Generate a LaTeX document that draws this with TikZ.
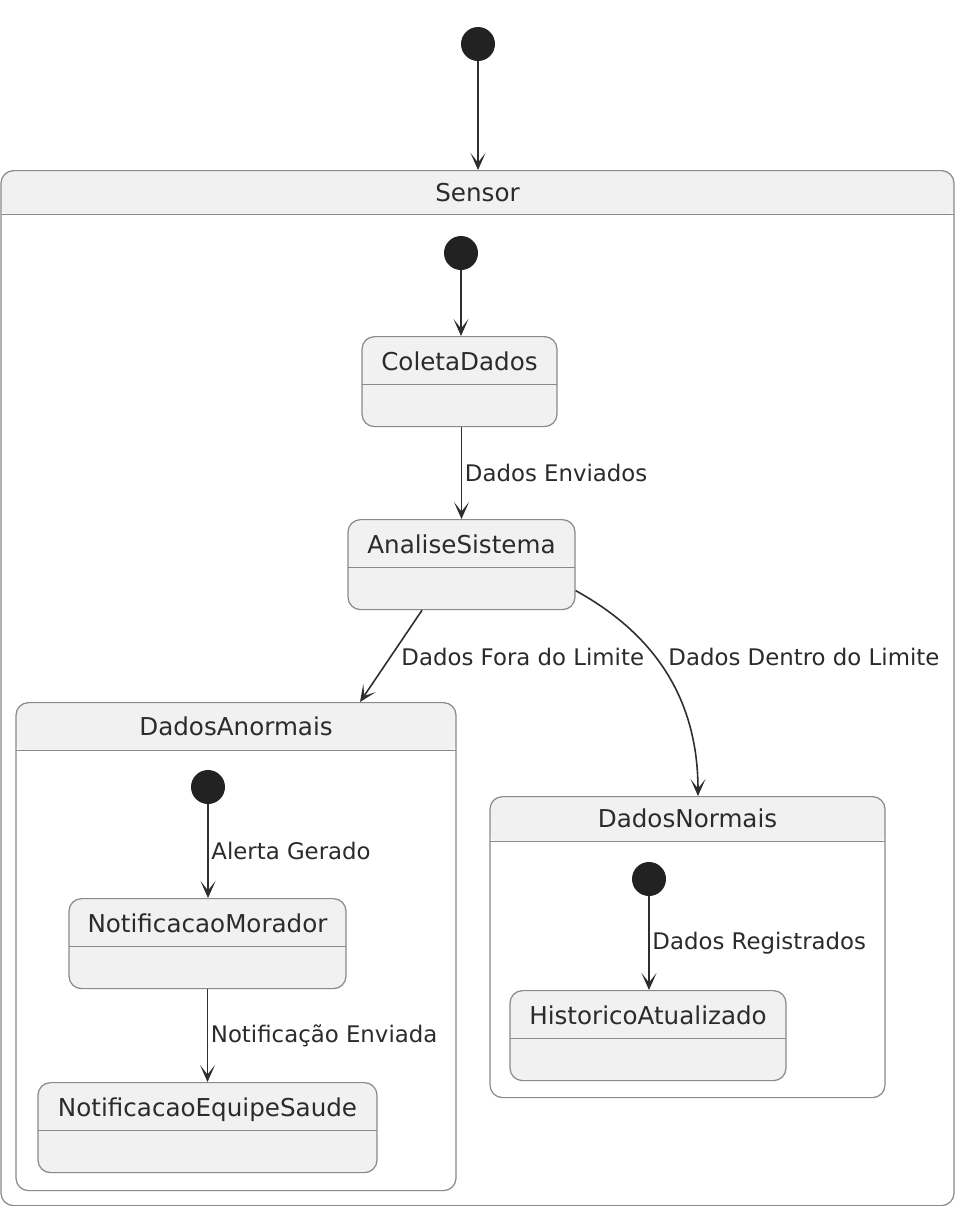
\documentclass[tikz,border=0pt]{standalone}
\usepackage{fontspec}
\setmainfont{DejaVu Sans}
\usetikzlibrary{arrows.meta, positioning}
\definecolor{statefill}{HTML}{F1F1F1}
\definecolor{stateline}{HTML}{8A8A8A}
\definecolor{arrowline}{HTML}{2E2E2E}
\definecolor{dotfill}{HTML}{222222}
\definecolor{textcol}{HTML}{2B2B2B}

\begin{document}
\begin{tikzpicture}[font=\fontsize{14}{17}\selectfont, every node/.style={text=textcol}]

    % Styles
    \tikzset{
        divider/.style={stateline, line width=0.7pt},
        startdot/.style={circle, fill=dotfill, minimum size=0.68cm, inner sep=0pt},
        statebox/.style={rectangle, rounded corners=0.25cm, draw=stateline, fill=statefill, line width=0.7pt, anchor=north, inner sep=0pt, text height=0.68cm, text depth=1.12cm,
            path picture={\draw[divider] ([yshift=-0.95cm]path picture bounding box.north west) -- ([yshift=-0.95cm]path picture bounding box.north east);}},
        compbox/.style={rectangle, rounded corners=0.25cm, draw=stateline, fill=white, line width=0.7pt, anchor=north, inner sep=0pt,
            path picture={\fill[statefill] ([xshift=-2pt]path picture bounding box.north west) rectangle ([xshift=2pt, yshift=-#1]path picture bounding box.north east);
                \draw[divider] ([yshift=-#1]path picture bounding box.north west) -- ([yshift=-#1]path picture bounding box.north east);}},
        arrow/.style={-{Stealth[length=0.34cm, width=0.3cm, inset=0.19cm]}, arrowline, line width=0.9pt},
        lbl/.style={inner sep=1.5pt, font=\fontsize{13}{16}\selectfont}
    }

    \useasboundingbox (0,0) rectangle (19.1,-24.12);

    % Outer state
    \node[startdot] (i0) at (9.56,-0.88) {};
    \node[compbox=0.88cm, minimum width=19.06cm, text height=0.62cm, text depth=20.08cm] (sensor) at (9.55,-3.4) {Sensor};

    % Sensor contents
    \node[startdot] (i1) at (9.22,-5.06) {};
    \node[statebox, minimum width=3.9cm] (coleta) at (9.19,-6.72) {ColetaDados};
    \node[statebox, minimum width=4.54cm] (analise) at (9.23,-10.38) {AnaliseSistema};

    % Composite states
    \node[compbox=0.96cm, minimum width=8.8cm, text height=0.66cm, text depth=9.1cm] (anormais) at (4.72,-14.04) {DadosAnormais};
    \node[compbox=0.9cm, minimum width=7.9cm, text height=0.62cm, text depth=5.4cm] (normais) at (13.75,-15.92) {DadosNormais};

    % DadosAnormais contents
    \node[startdot] (i2) at (4.16,-15.74) {};
    \node[statebox, minimum width=5.54cm] (morador) at (4.15,-17.96) {NotificacaoMorador};
    \node[statebox, minimum width=6.78cm] (equipe) at (4.15,-21.64) {NotificacaoEquipeSaude};

    % DadosNormais contents
    \node[startdot] (i3) at (12.98,-17.58) {};
    \node[statebox, minimum width=5.52cm] (historico) at (12.96,-19.8) {HistoricoAtualizado};

    % Transitions
    \draw[arrow] (i0) -- (i0 |- sensor.north);
    \draw[arrow] (i1) -- (i1 |- coleta.north);
    \draw[arrow] (analise.north |- coleta.south) -- (analise.north) node[lbl, midway, right] {Dados Enviados};
    \draw[arrow] ([xshift=-0.79cm]analise.south) -- ([xshift=2.48cm]anormais.north);
    \node[lbl, anchor=west] (lfora) at (7.97,-13.14) {Dados Fora do Limite};
    \draw[arrow] ([yshift=-0.52cm]analise.east) .. controls +(1.6,-0.88) and +(0,1.92) .. ([xshift=0.21cm]normais.north);
    \node[lbl, anchor=west] (ldentro) at (13.31,-13.14) {Dados Dentro do Limite};
    \draw[arrow] (i2) -- (i2 |- morador.north) node[lbl, midway, right] {Alerta Gerado};
    \draw[arrow] (morador.south) -- (equipe.north) node[lbl, midway, right] {Notificação Enviada};
    \draw[arrow] (i3) -- (i3 |- historico.north) node[lbl, midway, right] {Dados Registrados};

\end{tikzpicture}
\end{document}
